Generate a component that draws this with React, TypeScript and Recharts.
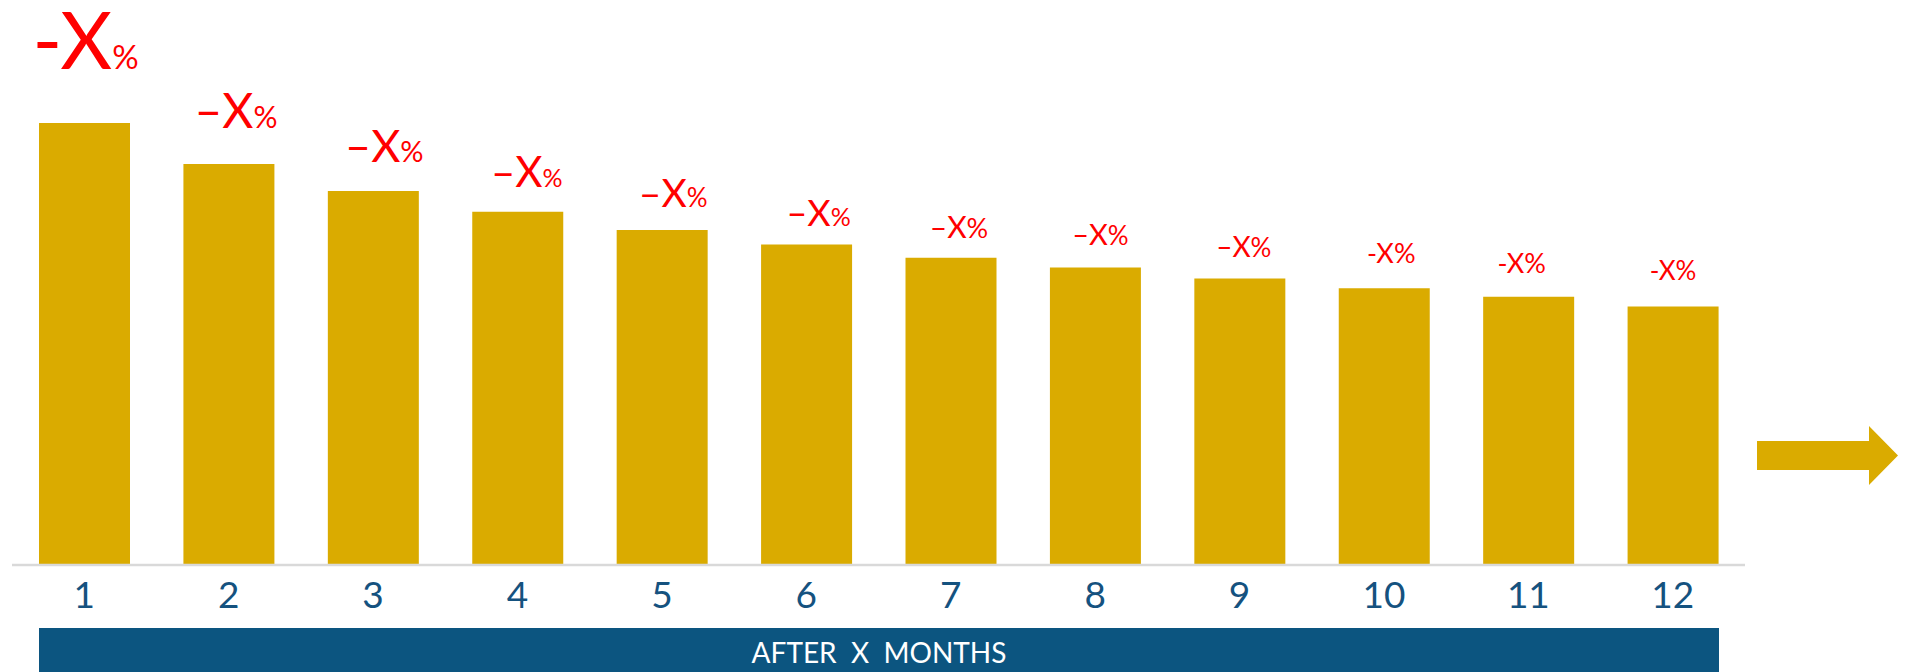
import React from 'react';
import { BarChart, Bar, XAxis, YAxis, LabelList } from 'recharts';

// ─────────────────────────────────────────────────────────────────────────────
// Data (bar heights, first bar = 100)
// ─────────────────────────────────────────────────────────────────────────────

const MONTHS = ['1', '2', '3', '4', '5', '6', '7', '8', '9', '10', '11', '12'];
const VALUES = [100, 90.7, 84.6, 79.9, 75.8, 72.5, 69.5, 67.3, 64.8, 62.6, 60.7, 58.5];
const LABELS = ['X', 'X', 'X', 'X', 'X', 'X', 'X', 'X', 'X', 'X', 'X', 'X'];
const BANNER_TEXT = 'AFTER  X  MONTHS';

const GOLD = '#DAAB00';
const NAVY = '#0C5580';
const RED = '#FF0000';
const FONT = 'Lato, "Open Sans", sans-serif';

// label look per bar: big first, shrinking to the right
const LABEL_STYLE = [
    { size: 80, pct: 33, lift: 54, shift: 1, dash: '-' },
    { size: 48, pct: 30, lift: 36, shift: 7, dash: '–' },
    { size: 45, pct: 29, lift: 29, shift: 11, dash: '–' },
    { size: 42, pct: 25, lift: 25, shift: 9, dash: '–' },
    { size: 39, pct: 26, lift: 23, shift: 11, dash: '–' },
    { size: 36, pct: 25, lift: 19, shift: 12, dash: '–' },
    { size: 30, pct: 27, lift: 20, shift: 8, dash: '–' },
    { size: 29, pct: 26, lift: 23, shift: 5, dash: '–' },
    { size: 28, pct: 26, lift: 22, shift: 4, dash: '–' },
    { size: 27, pct: 27, lift: 25, shift: 7, dash: '-' },
    { size: 27, pct: 27, lift: 24, shift: -7, dash: '-' },
    { size: 26, pct: 26, lift: 26, shift: 0, dash: '-' },
];

const chartData = MONTHS.map((m, i) => ({ month: m, value: VALUES[i], label: LABELS[i] }));

const DropLabel = (props: any) => {
    const { x, y, width, index, value } = props;
    const s = LABEL_STYLE[index] ?? LABEL_STYLE[LABEL_STYLE.length - 1];
    return (
        <text
            x={x + width / 2 + s.shift}
            y={y - s.lift}
            textAnchor="middle"
            fill={RED}
            fontFamily={FONT}
        >
            <tspan fontSize={s.size}>{s.dash + value}</tspan>
            <tspan fontSize={s.pct}>%</tspan>
        </text>
    );
};

export default function App() {
    return (
        <div style={{ position: 'absolute', left: 0, top: 0, width: 1906, height: 672, background: '#fff', overflow: 'hidden' }}>
            <BarChart
                width={1906}
                height={672}
                data={chartData}
                margin={{ top: 123, right: 161, left: 12, bottom: 0 }}
            >
                <XAxis
                    dataKey="month"
                    height={107}
                    axisLine={{ stroke: '#D9D9D9', strokeWidth: 2.5 }}
                    tickLine={false}
                    tickMargin={11}
                    tick={{ fill: '#15527F', fontSize: 37, fontFamily: FONT }}
                    interval={0}
                />
                <YAxis hide domain={[0, 100]} />
                <Bar dataKey="value" fill={GOLD} barSize={91} isAnimationActive={false}>
                    <LabelList dataKey="label" content={<DropLabel />} />
                </Bar>
            </BarChart>

            {/* banner under the axis + arrow on the right */}
            <svg width={1906} height={672} style={{ position: 'absolute', left: 0, top: 0, pointerEvents: 'none' }}>
                <rect x={39} y={628} width={1680} height={44} fill={NAVY} />
                <text
                    x={879}
                    y={663}
                    textAnchor="middle"
                    fill="#fff"
                    fontSize={28}
                    fontFamily={FONT}
                    style={{ whiteSpace: 'pre' }}
                >
                    {BANNER_TEXT}
                </text>
                <polygon
                    points="1757,441 1869,441 1869,426 1898,455.5 1869,485 1869,470 1757,470"
                    fill={GOLD}
                />
            </svg>
        </div>
    );
}
